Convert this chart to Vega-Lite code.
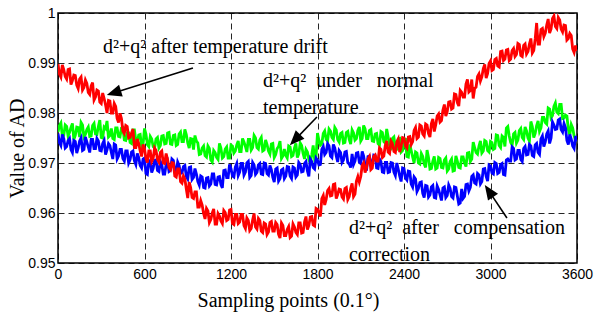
{
  "$schema": "https://vega.github.io/schema/vega-lite/v6.json",
  "width": 519,
  "height": 250,
  "autosize": "none",
  "padding": {"left": 58, "top": 13, "right": 19, "bottom": 59},
  "background": "white",
  "config": {
    "view": {"stroke": "black", "strokeWidth": 1.5},
    "axis": {
      "grid": true, "gridColor": "#000000", "gridDash": [6, 4], "gridWidth": 1, "gridOpacity": 0.85,
      "domain": false, "ticks": false,
      "labelFont": "Liberation Sans", "labelFontSize": 14, "labelColor": "#000000",
      "titleFont": "Liberation Serif", "titleFontSize": 20, "titleFontWeight": "normal", "titleColor": "#000000"
    }
  },
  "datasets": {
    "series": [
      {"x":0,"r":0.9898,"g":0.9762,"b":0.9759},{"x":20,"r":0.9872,"g":0.9780,"b":0.9735},{"x":40,"r":0.9887,"g":0.9755,"b":0.9749},{"x":60,"r":0.9868,"g":0.9773,"b":0.9733},{"x":80,"r":0.9888,"g":0.9761,"b":0.9749},
      {"x":100,"r":0.9865,"g":0.9779,"b":0.9721},{"x":120,"r":0.9875,"g":0.9755,"b":0.9743},{"x":140,"r":0.9849,"g":0.9771,"b":0.9730},{"x":160,"r":0.9872,"g":0.9781,"b":0.9750},{"x":180,"r":0.9851,"g":0.9752,"b":0.9727},
      {"x":200,"r":0.9859,"g":0.9767,"b":0.9742},{"x":220,"r":0.9837,"g":0.9753,"b":0.9721},{"x":240,"r":0.9861,"g":0.9775,"b":0.9747},{"x":260,"r":0.9832,"g":0.9758,"b":0.9729},{"x":280,"r":0.9844,"g":0.9773,"b":0.9744},
      {"x":300,"r":0.9819,"g":0.9751,"b":0.9724},{"x":320,"r":0.9829,"g":0.9772,"b":0.9745},{"x":340,"r":0.9800,"g":0.9784,"b":0.9726},{"x":360,"r":0.9824,"g":0.9755,"b":0.9735},{"x":380,"r":0.9800,"g":0.9749,"b":0.9708},
      {"x":400,"r":0.9813,"g":0.9770,"b":0.9736},{"x":420,"r":0.9781,"g":0.9753,"b":0.9714},{"x":440,"r":0.9789,"g":0.9770,"b":0.9727},{"x":460,"r":0.9759,"g":0.9746,"b":0.9704},{"x":480,"r":0.9773,"g":0.9760,"b":0.9724},
      {"x":500,"r":0.9751,"g":0.9741,"b":0.9707},{"x":520,"r":0.9768,"g":0.9766,"b":0.9724},{"x":540,"r":0.9731,"g":0.9745,"b":0.9697},{"x":560,"r":0.9739,"g":0.9756,"b":0.9711},{"x":580,"r":0.9713,"g":0.9733,"b":0.9690},
      {"x":600,"r":0.9729,"g":0.9769,"b":0.9710},{"x":620,"r":0.9701,"g":0.9737,"b":0.9677},{"x":640,"r":0.9724,"g":0.9753,"b":0.9705},{"x":660,"r":0.9709,"g":0.9733,"b":0.9689},{"x":680,"r":0.9725,"g":0.9748,"b":0.9706},
      {"x":700,"r":0.9702,"g":0.9730,"b":0.9683},{"x":720,"r":0.9724,"g":0.9754,"b":0.9697},{"x":740,"r":0.9699,"g":0.9738,"b":0.9678},{"x":760,"r":0.9707,"g":0.9760,"b":0.9703},{"x":780,"r":0.9687,"g":0.9738,"b":0.9685},
      {"x":800,"r":0.9700,"g":0.9755,"b":0.9705},{"x":820,"r":0.9672,"g":0.9735,"b":0.9681},{"x":840,"r":0.9688,"g":0.9758,"b":0.9695},{"x":860,"r":0.9660,"g":0.9743,"b":0.9680},{"x":880,"r":0.9668,"g":0.9767,"b":0.9695},
      {"x":900,"r":0.9630,"g":0.9740,"b":0.9668},{"x":920,"r":0.9651,"g":0.9749,"b":0.9692},{"x":940,"r":0.9629,"g":0.9727,"b":0.9671},{"x":960,"r":0.9642,"g":0.9744,"b":0.9678},{"x":980,"r":0.9612,"g":0.9717,"b":0.9656},
      {"x":1000,"r":0.9616,"g":0.9730,"b":0.9672},{"x":1020,"r":0.9588,"g":0.9715,"b":0.9650},{"x":1040,"r":0.9604,"g":0.9734,"b":0.9671},{"x":1060,"r":0.9587,"g":0.9706,"b":0.9658},{"x":1080,"r":0.9608,"g":0.9725,"b":0.9678},
      {"x":1100,"r":0.9578,"g":0.9711,"b":0.9656},{"x":1120,"r":0.9594,"g":0.9739,"b":0.9673},{"x":1140,"r":0.9579,"g":0.9710,"b":0.9650},{"x":1160,"r":0.9601,"g":0.9728,"b":0.9686},{"x":1180,"r":0.9587,"g":0.9710,"b":0.9671},
      {"x":1200,"r":0.9607,"g":0.9736,"b":0.9689},{"x":1220,"r":0.9577,"g":0.9720,"b":0.9672},{"x":1240,"r":0.9597,"g":0.9736,"b":0.9699},{"x":1260,"r":0.9582,"g":0.9723,"b":0.9682},{"x":1280,"r":0.9597,"g":0.9749,"b":0.9699},
      {"x":1300,"r":0.9569,"g":0.9733,"b":0.9682},{"x":1320,"r":0.9585,"g":0.9747,"b":0.9703},{"x":1340,"r":0.9569,"g":0.9726,"b":0.9675},{"x":1360,"r":0.9599,"g":0.9755,"b":0.9696},{"x":1380,"r":0.9568,"g":0.9731,"b":0.9681},
      {"x":1400,"r":0.9585,"g":0.9746,"b":0.9699},{"x":1420,"r":0.9561,"g":0.9724,"b":0.9677},{"x":1440,"r":0.9578,"g":0.9746,"b":0.9699},{"x":1460,"r":0.9562,"g":0.9724,"b":0.9676},{"x":1480,"r":0.9583,"g":0.9738,"b":0.9687},
      {"x":1500,"r":0.9564,"g":0.9711,"b":0.9662},{"x":1520,"r":0.9577,"g":0.9729,"b":0.9690},{"x":1540,"r":0.9550,"g":0.9744,"b":0.9669},{"x":1560,"r":0.9575,"g":0.9714,"b":0.9688},{"x":1580,"r":0.9555,"g":0.9715,"b":0.9674},
      {"x":1600,"r":0.9573,"g":0.9734,"b":0.9692},{"x":1620,"r":0.9554,"g":0.9713,"b":0.9669},{"x":1640,"r":0.9572,"g":0.9730,"b":0.9690},{"x":1660,"r":0.9557,"g":0.9711,"b":0.9676},{"x":1680,"r":0.9580,"g":0.9740,"b":0.9697},
      {"x":1700,"r":0.9561,"g":0.9719,"b":0.9683},{"x":1720,"r":0.9593,"g":0.9727,"b":0.9703},{"x":1740,"r":0.9575,"g":0.9707,"b":0.9673},{"x":1760,"r":0.9593,"g":0.9716,"b":0.9703},{"x":1780,"r":0.9574,"g":0.9708,"b":0.9688},
      {"x":1800,"r":0.9607,"g":0.9760,"b":0.9706},{"x":1820,"r":0.9593,"g":0.9736,"b":0.9697},{"x":1840,"r":0.9635,"g":0.9759,"b":0.9733},{"x":1860,"r":0.9627,"g":0.9747,"b":0.9721},{"x":1880,"r":0.9649,"g":0.9768,"b":0.9734},
      {"x":1900,"r":0.9635,"g":0.9751,"b":0.9711},{"x":1920,"r":0.9658,"g":0.9771,"b":0.9730},{"x":1940,"r":0.9637,"g":0.9747,"b":0.9702},{"x":1960,"r":0.9647,"g":0.9759,"b":0.9721},{"x":1980,"r":0.9628,"g":0.9740,"b":0.9706},
      {"x":2000,"r":0.9651,"g":0.9761,"b":0.9723},{"x":2020,"r":0.9633,"g":0.9747,"b":0.9698},{"x":2040,"r":0.9659,"g":0.9766,"b":0.9718},{"x":2060,"r":0.9638,"g":0.9746,"b":0.9704},{"x":2080,"r":0.9673,"g":0.9765,"b":0.9721},
      {"x":2100,"r":0.9673,"g":0.9744,"b":0.9699},{"x":2120,"r":0.9700,"g":0.9775,"b":0.9714},{"x":2140,"r":0.9690,"g":0.9749,"b":0.9685},{"x":2160,"r":0.9713,"g":0.9765,"b":0.9714},{"x":2180,"r":0.9690,"g":0.9744,"b":0.9698},
      {"x":2200,"r":0.9716,"g":0.9758,"b":0.9715},{"x":2220,"r":0.9704,"g":0.9739,"b":0.9689},{"x":2240,"r":0.9727,"g":0.9763,"b":0.9703},{"x":2260,"r":0.9714,"g":0.9743,"b":0.9681},{"x":2280,"r":0.9744,"g":0.9768,"b":0.9701},
      {"x":2300,"r":0.9719,"g":0.9735,"b":0.9682},{"x":2320,"r":0.9739,"g":0.9749,"b":0.9700},{"x":2340,"r":0.9721,"g":0.9731,"b":0.9675},{"x":2360,"r":0.9748,"g":0.9748,"b":0.9688},{"x":2380,"r":0.9732,"g":0.9722,"b":0.9663},
      {"x":2400,"r":0.9750,"g":0.9739,"b":0.9689},{"x":2420,"r":0.9730,"g":0.9713,"b":0.9666},{"x":2440,"r":0.9753,"g":0.9737,"b":0.9683},{"x":2460,"r":0.9743,"g":0.9712,"b":0.9652},{"x":2480,"r":0.9771,"g":0.9722,"b":0.9668},
      {"x":2500,"r":0.9752,"g":0.9700,"b":0.9649},{"x":2520,"r":0.9774,"g":0.9719,"b":0.9662},{"x":2540,"r":0.9754,"g":0.9698,"b":0.9631},{"x":2560,"r":0.9776,"g":0.9726,"b":0.9654},{"x":2580,"r":0.9752,"g":0.9688,"b":0.9636},
      {"x":2600,"r":0.9788,"g":0.9704,"b":0.9655},{"x":2620,"r":0.9776,"g":0.9688,"b":0.9630},{"x":2640,"r":0.9798,"g":0.9711,"b":0.9647},{"x":2660,"r":0.9785,"g":0.9691,"b":0.9625},{"x":2680,"r":0.9817,"g":0.9706,"b":0.9652},
      {"x":2700,"r":0.9803,"g":0.9684,"b":0.9635},{"x":2720,"r":0.9823,"g":0.9703,"b":0.9649},{"x":2740,"r":0.9810,"g":0.9684,"b":0.9630},{"x":2760,"r":0.9837,"g":0.9714,"b":0.9651},{"x":2780,"r":0.9814,"g":0.9691,"b":0.9618},
      {"x":2800,"r":0.9841,"g":0.9712,"b":0.9648},{"x":2820,"r":0.9832,"g":0.9700,"b":0.9633},{"x":2840,"r":0.9867,"g":0.9720,"b":0.9658},{"x":2860,"r":0.9845,"g":0.9703,"b":0.9651},{"x":2880,"r":0.9829,"g":0.9742,"b":0.9676},
      {"x":2900,"r":0.9852,"g":0.9721,"b":0.9658},{"x":2920,"r":0.9878,"g":0.9734,"b":0.9676},{"x":2940,"r":0.9872,"g":0.9720,"b":0.9663},{"x":2960,"r":0.9897,"g":0.9745,"b":0.9689},{"x":2980,"r":0.9879,"g":0.9725,"b":0.9664},
      {"x":3000,"r":0.9904,"g":0.9743,"b":0.9694},{"x":3020,"r":0.9887,"g":0.9727,"b":0.9678},{"x":3040,"r":0.9909,"g":0.9756,"b":0.9699},{"x":3060,"r":0.9892,"g":0.9735,"b":0.9681},{"x":3080,"r":0.9924,"g":0.9754,"b":0.9699},
      {"x":3100,"r":0.9908,"g":0.9733,"b":0.9676},{"x":3120,"r":0.9927,"g":0.9773,"b":0.9708},{"x":3140,"r":0.9908,"g":0.9741,"b":0.9704},{"x":3160,"r":0.9929,"g":0.9758,"b":0.9729},{"x":3180,"r":0.9917,"g":0.9740,"b":0.9708},
      {"x":3200,"r":0.9937,"g":0.9765,"b":0.9725},{"x":3220,"r":0.9913,"g":0.9751,"b":0.9703},{"x":3240,"r":0.9938,"g":0.9772,"b":0.9733},{"x":3260,"r":0.9923,"g":0.9750,"b":0.9717},{"x":3280,"r":0.9949,"g":0.9783,"b":0.9734},
      {"x":3300,"r":0.9925,"g":0.9751,"b":0.9713},{"x":3320,"r":0.9980,"g":0.9775,"b":0.9739},{"x":3340,"r":0.9938,"g":0.9763,"b":0.9717},{"x":3360,"r":0.9969,"g":0.9791,"b":0.9754},{"x":3380,"r":0.9960,"g":0.9781,"b":0.9742},
      {"x":3400,"r":0.9988,"g":0.9810,"b":0.9764},{"x":3420,"r":0.9968,"g":0.9790,"b":0.9750},{"x":3440,"r":0.9994,"g":0.9813,"b":0.9776},{"x":3460,"r":0.9969,"g":0.9802,"b":0.9768},{"x":3480,"r":0.9986,"g":0.9817,"b":0.9788},
      {"x":3500,"r":0.9962,"g":0.9789,"b":0.9762},{"x":3520,"r":0.9975,"g":0.9796,"b":0.9771},{"x":3540,"r":0.9949,"g":0.9767,"b":0.9737},{"x":3560,"r":0.9955,"g":0.9777,"b":0.9748},{"x":3580,"r":0.9921,"g":0.9754,"b":0.9729},
      {"x":3600,"r":0.9924,"g":0.9745,"b":0.9743},
      {"x":10,"r":0.9878,"g":0.9775,"b":0.9741},{"x":30,"r":0.9896,"g":0.9754,"b":0.9757},{"x":50,"r":0.9873,"g":0.9776,"b":0.9730},{"x":70,"r":0.9887,"g":0.9754,"b":0.9745},{"x":90,"r":0.9857,"g":0.9771,"b":0.9727},
      {"x":110,"r":0.9876,"g":0.9747,"b":0.9745},{"x":130,"r":0.9856,"g":0.9772,"b":0.9720},{"x":150,"r":0.9868,"g":0.9752,"b":0.9744},{"x":170,"r":0.9846,"g":0.9776,"b":0.9725},{"x":190,"r":0.9866,"g":0.9757,"b":0.9752},
      {"x":210,"r":0.9841,"g":0.9772,"b":0.9732},{"x":230,"r":0.9854,"g":0.9754,"b":0.9747},{"x":250,"r":0.9826,"g":0.9779,"b":0.9729},{"x":270,"r":0.9846,"g":0.9757,"b":0.9749},{"x":290,"r":0.9822,"g":0.9786,"b":0.9725},
      {"x":310,"r":0.9840,"g":0.9750,"b":0.9739},{"x":330,"r":0.9816,"g":0.9769,"b":0.9717},{"x":350,"r":0.9825,"g":0.9752,"b":0.9739},{"x":370,"r":0.9800,"g":0.9769,"b":0.9721},{"x":390,"r":0.9819,"g":0.9747,"b":0.9738},
      {"x":410,"r":0.9789,"g":0.9770,"b":0.9708},{"x":430,"r":0.9799,"g":0.9752,"b":0.9727},{"x":450,"r":0.9764,"g":0.9771,"b":0.9709},{"x":470,"r":0.9775,"g":0.9745,"b":0.9724},{"x":490,"r":0.9750,"g":0.9760,"b":0.9700},
      {"x":510,"r":0.9760,"g":0.9739,"b":0.9722},{"x":530,"r":0.9731,"g":0.9766,"b":0.9704},{"x":550,"r":0.9748,"g":0.9742,"b":0.9719},{"x":570,"r":0.9724,"g":0.9757,"b":0.9695},{"x":590,"r":0.9737,"g":0.9737,"b":0.9708},
      {"x":610,"r":0.9709,"g":0.9758,"b":0.9679},{"x":630,"r":0.9724,"g":0.9733,"b":0.9704},{"x":650,"r":0.9703,"g":0.9748,"b":0.9681},{"x":670,"r":0.9730,"g":0.9730,"b":0.9705},{"x":690,"r":0.9707,"g":0.9751,"b":0.9685},
      {"x":710,"r":0.9721,"g":0.9735,"b":0.9703},{"x":730,"r":0.9700,"g":0.9755,"b":0.9678},{"x":750,"r":0.9719,"g":0.9739,"b":0.9697},{"x":770,"r":0.9691,"g":0.9761,"b":0.9683},{"x":790,"r":0.9701,"g":0.9737,"b":0.9708},
      {"x":810,"r":0.9674,"g":0.9756,"b":0.9685},{"x":830,"r":0.9688,"g":0.9737,"b":0.9702},{"x":850,"r":0.9663,"g":0.9762,"b":0.9679},{"x":870,"r":0.9674,"g":0.9743,"b":0.9693},{"x":890,"r":0.9648,"g":0.9757,"b":0.9673},
      {"x":910,"r":0.9662,"g":0.9730,"b":0.9691},{"x":930,"r":0.9631,"g":0.9748,"b":0.9667},{"x":950,"r":0.9642,"g":0.9755,"b":0.9689},{"x":970,"r":0.9612,"g":0.9740,"b":0.9663},{"x":990,"r":0.9625,"g":0.9718,"b":0.9674},
      {"x":1010,"r":0.9599,"g":0.9734,"b":0.9651},{"x":1030,"r":0.9609,"g":0.9712,"b":0.9670},{"x":1050,"r":0.9581,"g":0.9729,"b":0.9654},{"x":1070,"r":0.9600,"g":0.9702,"b":0.9678},{"x":1090,"r":0.9578,"g":0.9721,"b":0.9657},
      {"x":1110,"r":0.9599,"g":0.9707,"b":0.9672},{"x":1130,"r":0.9584,"g":0.9730,"b":0.9657},{"x":1150,"r":0.9605,"g":0.9713,"b":0.9685},{"x":1170,"r":0.9585,"g":0.9732,"b":0.9671},{"x":1190,"r":0.9606,"g":0.9710,"b":0.9697},
      {"x":1210,"r":0.9579,"g":0.9734,"b":0.9674},{"x":1230,"r":0.9597,"g":0.9724,"b":0.9692},{"x":1250,"r":0.9579,"g":0.9744,"b":0.9675},{"x":1270,"r":0.9597,"g":0.9723,"b":0.9699},{"x":1290,"r":0.9575,"g":0.9742,"b":0.9676},
      {"x":1310,"r":0.9590,"g":0.9722,"b":0.9700},{"x":1330,"r":0.9565,"g":0.9747,"b":0.9671},{"x":1350,"r":0.9586,"g":0.9731,"b":0.9701},{"x":1370,"r":0.9572,"g":0.9750,"b":0.9677},{"x":1390,"r":0.9589,"g":0.9728,"b":0.9696},
      {"x":1410,"r":0.9564,"g":0.9751,"b":0.9678},{"x":1430,"r":0.9580,"g":0.9726,"b":0.9700},{"x":1450,"r":0.9557,"g":0.9737,"b":0.9679},{"x":1470,"r":0.9581,"g":0.9718,"b":0.9695},{"x":1490,"r":0.9564,"g":0.9739,"b":0.9671},
      {"x":1510,"r":0.9581,"g":0.9717,"b":0.9688},{"x":1530,"r":0.9557,"g":0.9733,"b":0.9664},{"x":1550,"r":0.9580,"g":0.9709,"b":0.9686},{"x":1570,"r":0.9555,"g":0.9728,"b":0.9669},{"x":1590,"r":0.9567,"g":0.9710,"b":0.9693},
      {"x":1610,"r":0.9551,"g":0.9732,"b":0.9674},{"x":1630,"r":0.9578,"g":0.9715,"b":0.9692},{"x":1650,"r":0.9561,"g":0.9739,"b":0.9672},{"x":1670,"r":0.9580,"g":0.9718,"b":0.9701},{"x":1690,"r":0.9560,"g":0.9735,"b":0.9682},
      {"x":1710,"r":0.9582,"g":0.9708,"b":0.9699},{"x":1730,"r":0.9567,"g":0.9722,"b":0.9684},{"x":1750,"r":0.9592,"g":0.9700,"b":0.9708},{"x":1770,"r":0.9576,"g":0.9735,"b":0.9691},{"x":1790,"r":0.9609,"g":0.9713,"b":0.9710},
      {"x":1810,"r":0.9600,"g":0.9745,"b":0.9696},{"x":1830,"r":0.9629,"g":0.9739,"b":0.9727},{"x":1850,"r":0.9616,"g":0.9764,"b":0.9717},{"x":1870,"r":0.9645,"g":0.9744,"b":0.9739},{"x":1890,"r":0.9634,"g":0.9764,"b":0.9714},
      {"x":1910,"r":0.9657,"g":0.9747,"b":0.9737},{"x":1930,"r":0.9629,"g":0.9766,"b":0.9714},{"x":1950,"r":0.9648,"g":0.9742,"b":0.9725},{"x":1970,"r":0.9632,"g":0.9761,"b":0.9701},{"x":1990,"r":0.9649,"g":0.9741,"b":0.9722},
      {"x":2010,"r":0.9627,"g":0.9763,"b":0.9701},{"x":2030,"r":0.9649,"g":0.9738,"b":0.9691},{"x":2050,"r":0.9633,"g":0.9760,"b":0.9697},{"x":2070,"r":0.9664,"g":0.9749,"b":0.9720},{"x":2090,"r":0.9662,"g":0.9772,"b":0.9702},
      {"x":2110,"r":0.9695,"g":0.9749,"b":0.9723},{"x":2130,"r":0.9681,"g":0.9768,"b":0.9695},{"x":2150,"r":0.9708,"g":0.9749,"b":0.9713},{"x":2170,"r":0.9687,"g":0.9767,"b":0.9698},{"x":2190,"r":0.9713,"g":0.9743,"b":0.9716},
      {"x":2210,"r":0.9704,"g":0.9759,"b":0.9690},{"x":2230,"r":0.9730,"g":0.9736,"b":0.9708},{"x":2250,"r":0.9711,"g":0.9761,"b":0.9682},{"x":2270,"r":0.9735,"g":0.9740,"b":0.9701},{"x":2290,"r":0.9722,"g":0.9752,"b":0.9681},
      {"x":2310,"r":0.9744,"g":0.9731,"b":0.9701},{"x":2330,"r":0.9723,"g":0.9752,"b":0.9682},{"x":2350,"r":0.9742,"g":0.9729,"b":0.9700},{"x":2370,"r":0.9722,"g":0.9749,"b":0.9674},{"x":2390,"r":0.9751,"g":0.9725,"b":0.9690},
      {"x":2410,"r":0.9734,"g":0.9750,"b":0.9670},{"x":2430,"r":0.9752,"g":0.9712,"b":0.9684},{"x":2450,"r":0.9737,"g":0.9725,"b":0.9658},{"x":2470,"r":0.9765,"g":0.9700,"b":0.9672},{"x":2490,"r":0.9749,"g":0.9720,"b":0.9643},
      {"x":2510,"r":0.9776,"g":0.9698,"b":0.9661},{"x":2530,"r":0.9758,"g":0.9713,"b":0.9639},{"x":2550,"r":0.9778,"g":0.9691,"b":0.9655},{"x":2570,"r":0.9759,"g":0.9711,"b":0.9632},{"x":2590,"r":0.9779,"g":0.9689,"b":0.9652},
      {"x":2610,"r":0.9763,"g":0.9713,"b":0.9631},{"x":2630,"r":0.9794,"g":0.9690,"b":0.9654},{"x":2650,"r":0.9782,"g":0.9709,"b":0.9636},{"x":2670,"r":0.9806,"g":0.9690,"b":0.9650},{"x":2690,"r":0.9794,"g":0.9710,"b":0.9631},
      {"x":2710,"r":0.9822,"g":0.9688,"b":0.9656},{"x":2730,"r":0.9808,"g":0.9708,"b":0.9633},{"x":2750,"r":0.9838,"g":0.9685,"b":0.9652},{"x":2770,"r":0.9821,"g":0.9704,"b":0.9634},{"x":2790,"r":0.9845,"g":0.9690,"b":0.9620},
      {"x":2810,"r":0.9832,"g":0.9712,"b":0.9629},{"x":2830,"r":0.9858,"g":0.9693,"b":0.9657},{"x":2850,"r":0.9842,"g":0.9721,"b":0.9644},{"x":2870,"r":0.9867,"g":0.9708,"b":0.9673},{"x":2890,"r":0.9849,"g":0.9731,"b":0.9660},
      {"x":2910,"r":0.9873,"g":0.9718,"b":0.9679},{"x":2930,"r":0.9864,"g":0.9744,"b":0.9658},{"x":2950,"r":0.9889,"g":0.9724,"b":0.9688},{"x":2970,"r":0.9870,"g":0.9743,"b":0.9673},{"x":2990,"r":0.9899,"g":0.9722,"b":0.9696},
      {"x":3010,"r":0.9885,"g":0.9741,"b":0.9680},{"x":3030,"r":0.9907,"g":0.9729,"b":0.9701},{"x":3050,"r":0.9894,"g":0.9755,"b":0.9679},{"x":3070,"r":0.9923,"g":0.9731,"b":0.9697},{"x":3090,"r":0.9905,"g":0.9751,"b":0.9677},
      {"x":3110,"r":0.9926,"g":0.9770,"b":0.9706},{"x":3130,"r":0.9905,"g":0.9754,"b":0.9704},{"x":3150,"r":0.9925,"g":0.9736,"b":0.9732},{"x":3170,"r":0.9913,"g":0.9761,"b":0.9706},{"x":3190,"r":0.9939,"g":0.9746,"b":0.9725},
      {"x":3210,"r":0.9915,"g":0.9769,"b":0.9707},{"x":3230,"r":0.9935,"g":0.9747,"b":0.9729},{"x":3250,"r":0.9918,"g":0.9764,"b":0.9716},{"x":3270,"r":0.9938,"g":0.9744,"b":0.9737},{"x":3290,"r":0.9920,"g":0.9773,"b":0.9715},
      {"x":3310,"r":0.9948,"g":0.9759,"b":0.9736},{"x":3330,"r":0.9938,"g":0.9784,"b":0.9721},{"x":3350,"r":0.9967,"g":0.9770,"b":0.9748},{"x":3370,"r":0.9953,"g":0.9791,"b":0.9733},{"x":3390,"r":0.9976,"g":0.9778,"b":0.9758},
      {"x":3410,"r":0.9960,"g":0.9808,"b":0.9739},{"x":3430,"r":0.9989,"g":0.9795,"b":0.9782},{"x":3450,"r":0.9973,"g":0.9820,"b":0.9767},{"x":3470,"r":0.9991,"g":0.9799,"b":0.9786},{"x":3490,"r":0.9968,"g":0.9817,"b":0.9767},
      {"x":3510,"r":0.9976,"g":0.9790,"b":0.9779},{"x":3530,"r":0.9946,"g":0.9794,"b":0.9745},{"x":3550,"r":0.9959,"g":0.9756,"b":0.9757},{"x":3570,"r":0.9928,"g":0.9770,"b":0.9734},{"x":3590,"r":0.9935,"g":0.9746,"b":0.9754}
    ],
    "notes": [
      {"x": 312, "y": 0.9932, "label": "d²+q² after temperature drift"},
      {"x": 1422, "y": 0.9864, "label": "d²+q²\u00a0 under\u00a0\u00a0 normal"},
      {"x": 1422, "y": 0.9810, "label": "temperature"},
      {"x": 2018, "y": 0.9570, "label": "d²+q²\u00a0 after\u00a0\u00a0 compensation"},
      {"x": 2018, "y": 0.9516, "label": "correction"}
    ],
    "arrows": [
      {"x": 936, "y": 0.9890, "x2": 396, "y2": 0.98411, "a": 252.5},
      {"x": 1796, "y": 0.9792, "x2": 1650, "y2": 0.97482, "a": 224},
      {"x": 3114, "y": 0.9590, "x2": 2994, "y2": 0.96418, "a": 326}
    ]
  },
  "layer": [
    {
      "data": {"name": "series"},
      "mark": {"type": "line", "color": "#00ff00", "strokeWidth": 2.8, "clip": true},
      "encoding": {
        "x": {"field": "x", "type": "quantitative", "scale": {"domain": [0, 3600], "nice": false},
          "axis": {"values": [0, 600, 1200, 1800, 2400, 3000, 3600], "format": "d", "title": "Sampling points (0.1°)", "labelPadding": 4, "titleX": 230, "titleY": 37, "titleAlign": "center", "titleBaseline": "middle", "labelFlush": false}},
        "y": {"field": "g", "type": "quantitative", "scale": {"domain": [0.95, 1], "zero": false, "nice": false},
          "axis": {"values": [0.95, 0.96, 0.97, 0.98, 0.99, 1], "format": ".2~f", "title": "Value of AD", "labelPadding": 3, "titleX": -41, "titleY": 135, "titleAlign": "center", "titleBaseline": "middle", "titleAngle": -90}}
      }
    },
    {
      "data": {"name": "series"},
      "mark": {"type": "line", "color": "#0000ff", "strokeWidth": 2.8, "clip": true},
      "encoding": {
        "x": {"field": "x", "type": "quantitative"},
        "y": {"field": "b", "type": "quantitative"}
      }
    },
    {
      "data": {"name": "series"},
      "mark": {"type": "line", "color": "#ff0000", "strokeWidth": 2.8, "clip": true},
      "encoding": {
        "x": {"field": "x", "type": "quantitative"},
        "y": {"field": "r", "type": "quantitative"}
      }
    },
    {
      "data": {"name": "notes"},
      "mark": {"type": "text", "font": "Liberation Serif", "fontSize": 20, "align": "left", "baseline": "middle", "color": "#000000"},
      "encoding": {
        "x": {"field": "x", "type": "quantitative"},
        "y": {"field": "y", "type": "quantitative"},
        "text": {"field": "label"}
      }
    },
    {
      "data": {"name": "arrows"},
      "mark": {"type": "rule", "color": "#000000", "strokeWidth": 1.6},
      "encoding": {
        "x": {"field": "x", "type": "quantitative"},
        "y": {"field": "y", "type": "quantitative"},
        "x2": {"field": "x2"},
        "y2": {"field": "y2"}
      }
    },
    {
      "data": {"name": "arrows"},
      "mark": {"type": "point", "shape": "M0,-1L0.7,0.7L-0.7,0.7Z", "filled": true, "color": "#000000", "size": 300, "opacity": 1},
      "encoding": {
        "x": {"field": "x2", "type": "quantitative"},
        "y": {"field": "y2", "type": "quantitative"},
        "angle": {"field": "a", "type": "quantitative", "scale": null}
      }
    }
  ]
}
